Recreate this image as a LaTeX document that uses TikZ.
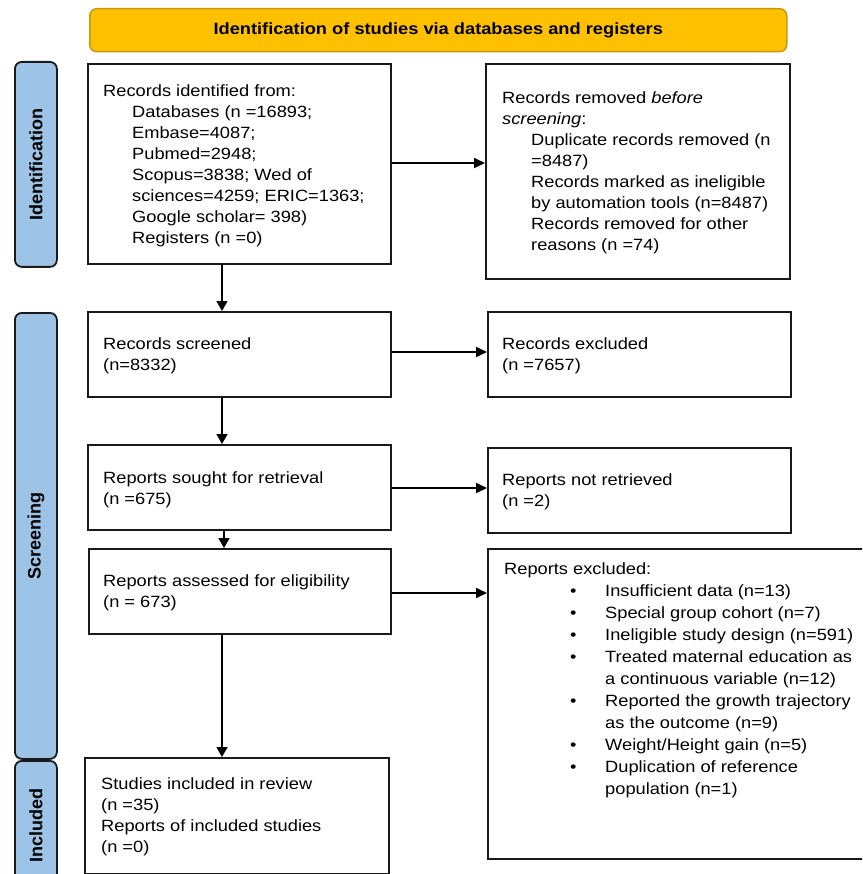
\documentclass[tikz,border=0pt]{standalone}
\usepackage{fontspec}
\setmainfont{Liberation Sans}[FakeStretch=1.12]
\newfontfamily\labelfont{Liberation Sans}
\usetikzlibrary{arrows.meta,calc}
\definecolor{bannerfill}{HTML}{FFC000}
\definecolor{bannerdraw}{HTML}{C59A12}
\definecolor{sidefill}{HTML}{9DC3E6}
\definecolor{sidedraw}{HTML}{1A1A1A}
\definecolor{boxdraw}{HTML}{1A1A1A}
\newcommand{\ind}{\hspace*{29pt}}
\newcommand{\bul}{\hspace*{66pt}\makebox[35pt][l]{•}}
\newcommand{\bind}{\hspace*{101pt}}
\begin{document}
\begin{tikzpicture}[x=1pt,y=-1pt,
  box/.style={draw=boxdraw,line width=1.8pt,anchor=north west,inner sep=0pt},
  side/.style={draw=sidedraw,fill=sidefill,line width=1.8pt,rounded corners=7pt,anchor=north west,inner sep=0pt},
  sidetext/.style={rotate=90,font=\labelfont\fontsize{18}{20}\selectfont\bfseries,inner sep=0pt},
  txt/.style={anchor=base west,inner sep=0pt,font=\fontsize{16.3}{21}\selectfont},
  arr/.style={line width=1.8pt,-{Triangle[length=11pt,width=10pt]}},
  darr/.style={line width=1.4pt,-{Triangle[length=10pt,width=11pt]}}
]
\useasboundingbox (0,0) rectangle (862,874);
\clip (0,0) rectangle (862,874);
% banner
\node[draw=bannerdraw,fill=bannerfill,line width=1.5pt,rounded corners=7pt,anchor=north west,
  minimum width=697pt,minimum height=43pt,inner sep=0pt] (banner) at (89,8) {};
\node[font=\fontsize{16.3}{20}\selectfont\bfseries,inner sep=0pt] (bannertext) at (banner.center) {Identification of studies via databases and registers};
% side labels
\node[side,minimum width=42pt,minimum height=205pt] (sid) at (14,61) {};
\node[side,minimum width=42pt,minimum height=446pt] (sscr) at (14,312) {};
\node[side,minimum width=42pt,minimum height=124pt] (sinc) at (14,760) {};
\node[sidetext] (sidt) at (sid.center) {Identification};
\node[sidetext] (sscrt) at (sscr.center) {Screening};
\node[sidetext] (sinct) at ([yshift=-3pt]sinc.center) {Included};
% boxes
\node[box,minimum width=303pt,minimum height=200pt] (b1) at (87,63) {};
\node[box,minimum width=304pt,minimum height=215pt] (b2) at (485,63) {};
\node[box,minimum width=303pt,minimum height=85pt] (b3) at (87,311) {};
\node[box,minimum width=303pt,minimum height=85pt] (b4) at (487,311) {};
\node[box,minimum width=303pt,minimum height=85pt] (b5) at (87,444) {};
\node[box,minimum width=303pt,minimum height=85pt] (b6) at (487,447) {};
\node[box,minimum width=302pt,minimum height=85pt] (b7) at (88,548) {};
\node[box,minimum width=420pt,minimum height=310pt] (b8) at (487,548) {};
\node[box,minimum width=304pt,minimum height=116pt] (b9) at (84,757) {};
% texts
\node[txt] (t1) at (103,97) {\begin{tabular}[t]{@{}l@{}}
Records identified from:\\
\ind Databases (n =16893;\\
\ind Embase=4087;\\
\ind Pubmed=2948;\\
\ind Scopus=3838; Wed of\\
\ind sciences=4259; ERIC=1363;\\
\ind Google scholar= 398)\\
\ind Registers (n =0)
\end{tabular}};
\node[txt] (t2) at (502,104) {\begin{tabular}[t]{@{}l@{}}
Records removed \textit{before}\\
\textit{screening}:\\
\ind Duplicate records removed (n\\
\ind =8487)\\
\ind Records marked as ineligible\\
\ind by automation tools (n=8487)\\
\ind Records removed for other\\
\ind reasons (n =74)
\end{tabular}};
\node[txt] (t3) at (103,349) {\begin{tabular}[t]{@{}l@{}}Records screened\\(n=8332)\end{tabular}};
\node[txt] (t4) at (502,349) {\begin{tabular}[t]{@{}l@{}}Records excluded\\(n =7657)\end{tabular}};
\node[txt] (t5) at (103,483) {\begin{tabular}[t]{@{}l@{}}Reports sought for retrieval\\(n =675)\end{tabular}};
\node[txt] (t6) at (502,485) {\begin{tabular}[t]{@{}l@{}}Reports not retrieved\\(n =2)\end{tabular}};
\node[txt] (t7) at (103,586) {\begin{tabular}[t]{@{}l@{}}Reports assessed for eligibility\\(n = 673)\end{tabular}};
\node[txt,font=\fontsize{16.3}{22}\selectfont] (t8) at (504,574) {\begin{tabular}[t]{@{}l@{}}
Reports excluded:\\
\bul Insufficient data (n=13)\\
\bul Special group cohort (n=7)\\
\bul Ineligible study design (n=591)\\
\bul Treated maternal education as\\
\bind a continuous variable (n=12)\\
\bul Reported the growth trajectory\\
\bind as the outcome (n=9)\\
\bul Weight/Height gain (n=5)\\
\bul Duplication of reference\\
\bind population (n=1)
\end{tabular}};
\node[txt] (t9) at (101,789) {\begin{tabular}[t]{@{}l@{}}Studies included in review\\(n =35)\\Reports of included studies\\(n =0)\end{tabular}};
% arrows
\coordinate (xa) at (222,0);
\coordinate (xb) at (224,0);
\coordinate (ya) at (0,163);
\coordinate (yb) at (0,352);
\coordinate (yc) at (0,488);
\coordinate (yd) at (0,593);
\draw[arr] (b1.east |- ya) -- (b2.west |- ya);
\draw[arr] (b3.east |- yb) -- (b4.west |- yb);
\draw[arr] (b5.east |- yc) -- (b6.west |- yc);
\draw[arr] (b7.east |- yd) -- (b8.west |- yd);
\draw[darr] (b1.south -| xa) -- (b3.north -| xa);
\draw[darr] (b3.south -| xa) -- (b5.north -| xa);
\draw[darr] (b5.south -| xb) -- (b7.north -| xb);
\draw[darr] (b7.south -| xa) -- (b9.north -| xa);
\end{tikzpicture}
\end{document}
